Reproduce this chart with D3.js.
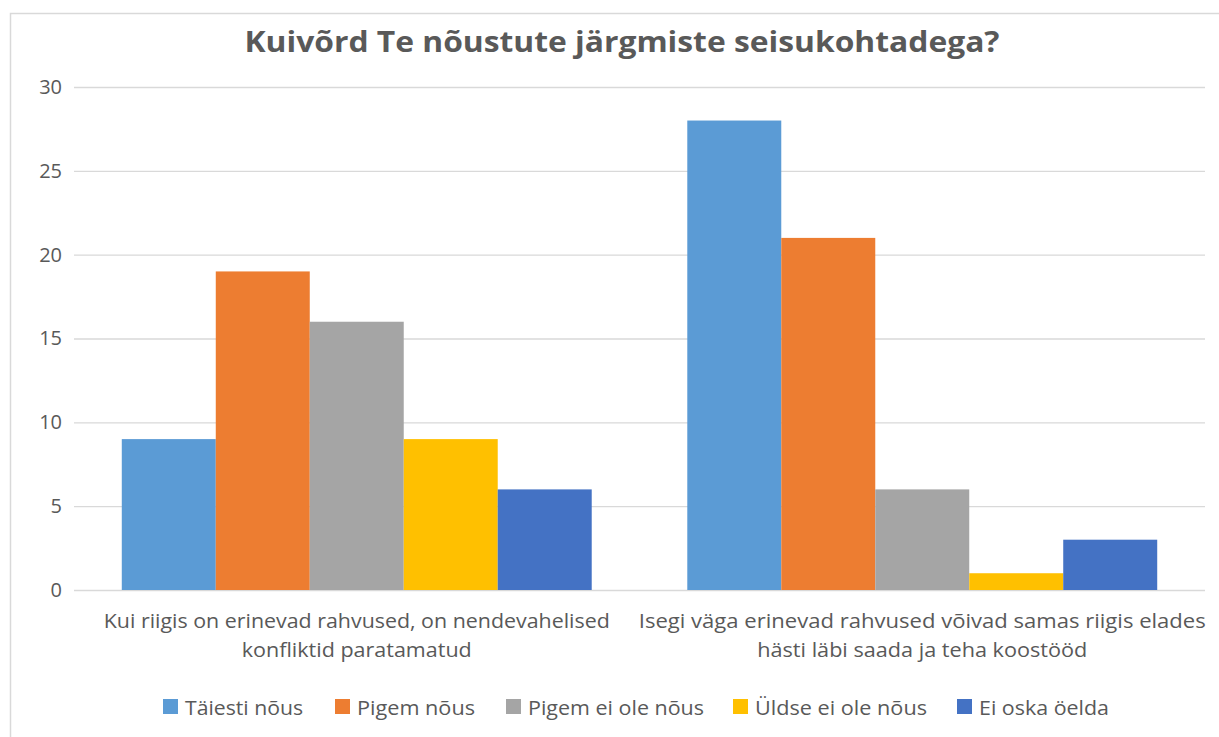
<!DOCTYPE html>
<html><head><meta charset="utf-8">
<script src="https://cdn.jsdelivr.net/npm/d3@7"></script>
<style>body{margin:0;background:#fff;} text{font-family:"Open Sans",sans-serif;}</style>
</head><body>
<svg id="c" width="1219" height="737"></svg>
<script>
const categories = [
  ["Kui riigis on erinevad rahvused, on nendevahelised", "konfliktid paratamatud"],
  ["Isegi väga erinevad rahvused võivad samas riigis elades", "hästi läbi saada ja teha koostööd"]
];
const seriesNames = ["Täiesti nõus", "Pigem nõus", "Pigem ei ole nõus", "Üldse ei ole nõus", "Ei oska öelda"];
const seriesColors = ["#5B9BD5", "#ED7D31", "#A5A5A5", "#FFC000", "#4472C4"];
const values1 = [9, 19, 16, 9, 6];
const values2 = [28, 21, 6, 1, 3];
const values = [values1, values2];
const yTicks = [0, 5, 10, 15, 20, 25, 30];
const title = "Kuivõrd Te nõustute järgmiste seisukohtadega?";

const svg = d3.select("#c");
const L = 74, R = 1205, T = 87, B = 590;
svg.append("path").attr("d","M10.5,737 V13.5 H1219").attr("fill","none").attr("stroke","#D9D9D9").attr("stroke-width",1.5);

svg.append("text").attr("x",622).attr("y",52).attr("text-anchor","middle")
  .attr("font-size",28).attr("font-weight","bold").attr("fill","#595959")
  .attr("textLength", 755).attr("lengthAdjust","spacingAndGlyphs").text(title);

const y = d3.scaleLinear().domain([0,30]).range([B,T]);
const x0 = d3.scaleBand().domain([0,1]).range([L,R]);
const inner = d3.scaleBand().domain(d3.range(5)).range([x0.bandwidth()*0.0845, x0.bandwidth()*(1-0.0845)]);

const gy = svg.append("g").attr("transform",`translate(${L},0)`)
  .call(d3.axisLeft(y).tickValues(yTicks).tickSize(-(R-L)).tickPadding(12));
gy.select(".domain").remove();
gy.selectAll(".tick line").attr("stroke","#D9D9D9").attr("stroke-width",1.3);
gy.selectAll(".tick text").attr("fill","#595959").attr("font-size",20).attr("font-family","Open Sans, sans-serif");

const groups = svg.append("g").selectAll("g").data(values).join("g")
  .attr("transform",(d,i)=>`translate(${x0(i)},0)`);
groups.selectAll("rect").data(d=>d).join("rect")
  .attr("x",(d,i)=>inner(i)).attr("width",inner.bandwidth())
  .attr("y",d=>y(d)).attr("height",d=>B-y(d))
  .attr("fill",(d,i)=>seriesColors[i]);

const catWidths = [[506, 230], [567, 330]];
categories.forEach((lines,i)=>{
  const cx = x0(i)+x0.bandwidth()/2;
  lines.forEach((ln,j)=>svg.append("text").attr("text-anchor","middle").attr("fill","#595959")
    .attr("font-size",20).attr("x",cx).attr("y",628+j*29)
    .attr("textLength",catWidths[i][j]).attr("lengthAdjust","spacingAndGlyphs").text(ln));
});

const legX = [163, 335, 506, 733, 957];
const legW = [118, 118, 176, 172, 130];
const leg = svg.append("g");
seriesNames.forEach((n,i)=>{
  leg.append("rect").attr("x",legX[i]).attr("y",699).attr("width",15).attr("height",15).attr("fill",seriesColors[i]);
  leg.append("text").attr("x",legX[i]+22).attr("y",715).attr("font-size",20).attr("fill","#595959")
    .attr("textLength",legW[i]).attr("lengthAdjust","spacingAndGlyphs").text(n);
});
</script>
</body></html>
